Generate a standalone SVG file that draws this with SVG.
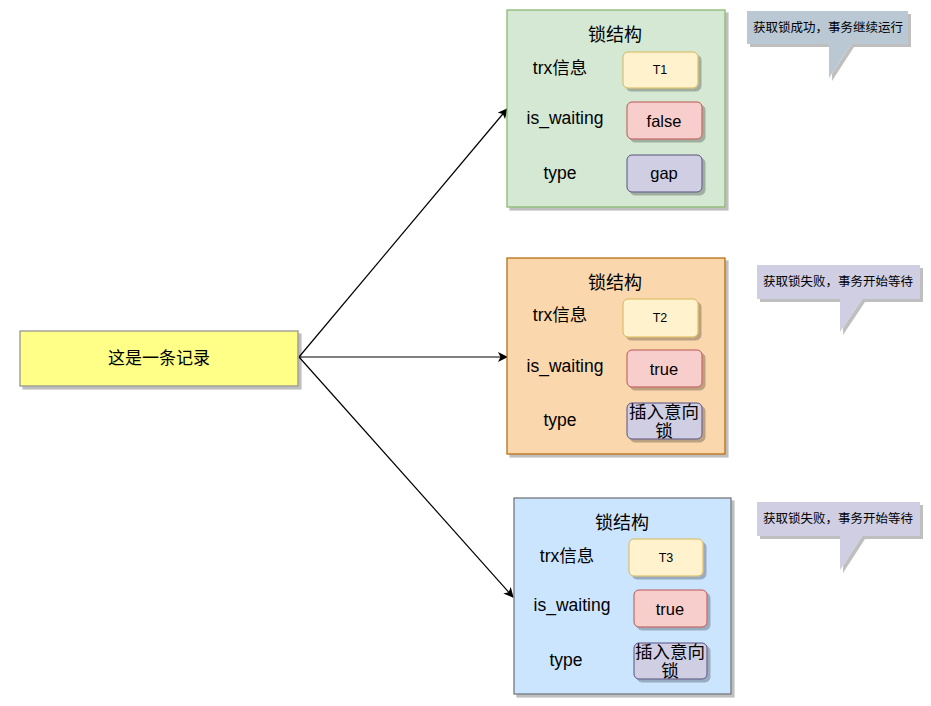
<svg xmlns="http://www.w3.org/2000/svg" width="931" height="706" viewBox="0 0 931 706">
<style>
text{font-family:"Liberation Sans","Noto Sans CJK SC",sans-serif;fill:#000;text-anchor:middle}
.lbl{font-size:17.5px}
.rec{font-size:17px}
.ttl{font-size:18px}
.val{font-size:16.5px}
.tid{font-size:12.5px}
.co{font-size:12.5px}
.sh{filter:url(#sh)}
.tx{fill:#fff2cc;stroke:#d6b656}
.wt{fill:#f8cecc;stroke:#b85450}
.ty{fill:#d0cee2;stroke:#56517e}
.edge{fill:none;stroke:#000;stroke-width:1.2}
</style>
<defs>
<filter id="sh" x="-10%" y="-10%" width="130%" height="150%">
<feOffset in="SourceAlpha" dx="3" dy="3" result="o"/>
<feFlood flood-color="#000" flood-opacity="0.25"/>
<feComposite in2="o" operator="in"/>
<feMerge><feMergeNode/><feMergeNode in="SourceGraphic"/></feMerge>
</filter>
<marker id="arr" viewBox="0 0 10 10" refX="9" refY="5" markerWidth="10" markerHeight="10" markerUnits="userSpaceOnUse" orient="auto">
<path d="M0,0 L10,5 L0,10 L2.5,5 Z" fill="#000"/>
</marker>
</defs>
<rect width="931" height="706" fill="#fff"/>

<g id="connectors">
<line class="edge" x1="299" y1="357" x2="507" y2="109" marker-end="url(#arr)"/>
<line class="edge" x1="299" y1="357" x2="507" y2="357" marker-end="url(#arr)"/>
<line class="edge" x1="299" y1="357" x2="513" y2="597" marker-end="url(#arr)"/>
</g>

<g id="record">
<rect class="sh" x="20" y="331" width="278" height="55" fill="#ffff88" stroke="#8c8c8c" stroke-width="1.2"/>
<text class="rec" x="159" y="364">这是一条记录</text>
</g>

<g id="lock1">
<rect class="sh" x="507" y="10" width="218" height="197" fill="#d5e8d4" stroke="#82b366" stroke-width="1.2"/>
<text class="ttl" x="615" y="41">锁结构</text>
<text class="lbl" x="560" y="74">trx信息</text>
<text class="lbl" x="565" y="124">is_waiting</text>
<text class="lbl" x="560" y="179">type</text>
<rect class="sh tx" x="623" y="52" width="75" height="36" rx="5"/>
<text class="tid" x="660" y="74">T1</text>
<rect class="sh wt" x="627" y="102" width="75" height="37" rx="5"/>
<text class="val" x="664" y="127">false</text>
<rect class="sh ty" x="627" y="155" width="75" height="37" rx="5"/>
<text class="val" x="664" y="179">gap</text>
</g>

<g id="lock2">
<rect class="sh" x="507" y="258" width="218" height="196" fill="#fad7ac" stroke="#b46504" stroke-width="1.2"/>
<text class="ttl" x="615" y="289">锁结构</text>
<text class="lbl" x="560" y="321">trx信息</text>
<text class="lbl" x="565" y="372">is_waiting</text>
<text class="lbl" x="560" y="426">type</text>
<rect class="sh tx" x="623" y="299" width="75" height="38" rx="5"/>
<text class="tid" x="660" y="322">T2</text>
<rect class="sh wt" x="627" y="350" width="75" height="37" rx="5"/>
<text class="val" x="664" y="375">true</text>
<rect class="sh ty" x="627" y="403" width="75" height="36" rx="5"/>
<text class="lbl" x="664" y="418">插入意向</text>
<text class="lbl" x="664" y="437">锁</text>
</g>

<g id="lock3">
<rect class="sh" x="514" y="498" width="217" height="196" fill="#cce5ff" stroke="#6b6e73" stroke-width="1.2"/>
<text class="ttl" x="622" y="529">锁结构</text>
<text class="lbl" x="567" y="562">trx信息</text>
<text class="lbl" x="572" y="611">is_waiting</text>
<text class="lbl" x="566" y="666">type</text>
<rect class="sh tx" x="629" y="539" width="74" height="37" rx="5"/>
<text class="tid" x="666" y="562">T3</text>
<rect class="sh wt" x="634" y="590" width="73" height="37" rx="5"/>
<text class="val" x="670" y="615">true</text>
<rect class="sh ty" x="634" y="643" width="73" height="36" rx="5"/>
<text class="lbl" x="670" y="658">插入意向</text>
<text class="lbl" x="670" y="677">锁</text>
</g>

<g id="callout1">
<path class="sh" d="M747,11 H908 V44 H851 L829,78 V44 H747 Z" fill="#bac8d3"/>
<text class="co" x="828" y="32">获取锁成功，事务继续运行</text>
</g>
<g id="callout2">
<path class="sh" d="M757,265 H920 V299 H862 L840,332 V299 H757 Z" fill="#d0cee2"/>
<text class="co" x="838" y="286">获取锁失败，事务开始等待</text>
</g>
<g id="callout3">
<path class="sh" d="M757,502 H920 V536 H862 L840,570 V536 H757 Z" fill="#d0cee2"/>
<text class="co" x="838" y="523">获取锁失败，事务开始等待</text>
</g>
</svg>
